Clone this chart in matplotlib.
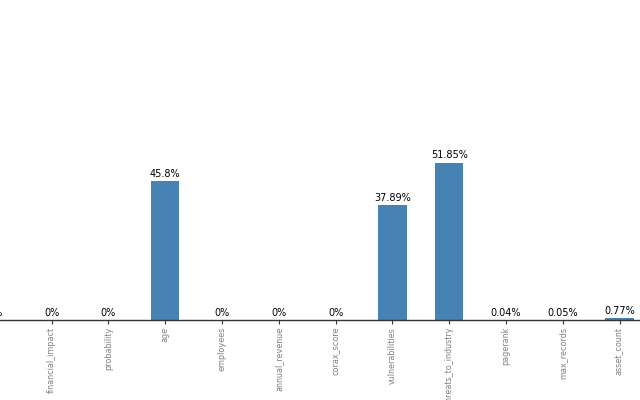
import matplotlib
matplotlib.use("Agg")
import matplotlib.pyplot as plt
import numpy as np

categories = ["threat_level", "financial_impact", "probability", "age", "employees",
              "annual_revenue", "corax_score", "vulnerabilities", "threats_to_industry",
              "pagerank", "max_records", "asset_count"]
values = [0, 0, 0, 45.8, 0, 0, 0, 37.89, 51.85, 0.04, 0.05, 0.77]
labels = ["0%", "0%", "0%", "45.8%", "0%", "0%", "0%", "37.89%", "51.85%", "0.04%", "0.05%", "0.77%"]

fig = plt.figure(figsize=(6.4, 4.0), dpi=100)
ax = fig.add_axes([0, 0.2, 1, 0.8])
x = np.arange(len(categories))
bars = ax.bar(x, values, width=0.5, color="#4682b4")
for xi, v, lab in zip(x, values, labels):
    ax.annotate(lab, (xi, v), xytext=(0, 1.5), textcoords="offset points",
                ha="center", va="bottom", fontsize=7, color="black",
                annotation_clip=False)
ax.set_xticks(x)
ax.set_xticklabels(categories, rotation=90, fontsize=5.8, color="gray")
ax.set_xlim(0.09, 11.36)
ax.set_ylim(0, 105.4)
ax.tick_params(axis="x", length=3, color="#333333", pad=2)
ax.set_yticks([])
for s in ["top", "left", "right"]:
    ax.spines[s].set_visible(False)
ax.spines["bottom"].set_color("#333333")
ax.spines["bottom"].set_linewidth(1.0)
fig.savefig("out.png", dpi=100)
